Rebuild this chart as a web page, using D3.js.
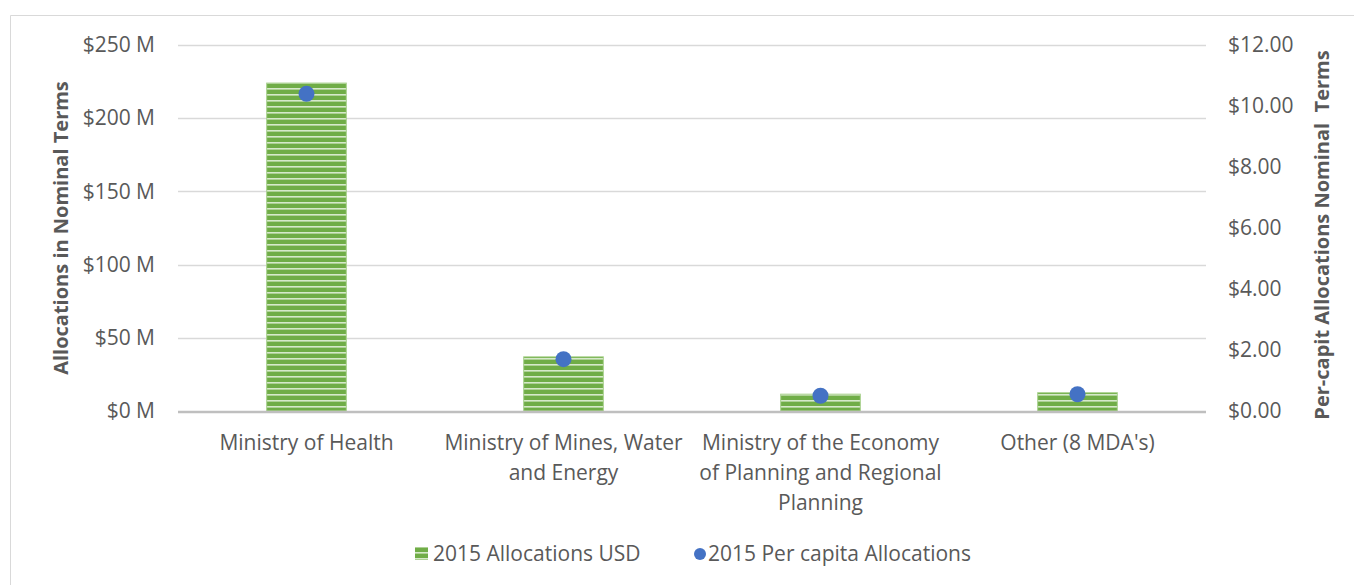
<!DOCTYPE html>
<html>
<head>
<meta charset="utf-8">
<script src="https://cdn.jsdelivr.net/npm/d3@7"></script>
<style>
  body { margin: 0; background: #fff; }
  svg text { font-family: "Open Sans", sans-serif; fill: #595959; }
</style>
</head>
<body>
<div id="chart"></div>
<script>
// chart data
var categoryLines = [
  ["Ministry of Health"],
  ["Ministry of Mines, Water", "and Energy"],
  ["Ministry of the Economy", "of Planning and Regional", "Planning"],
  ["Other (8 MDA's)"]
];
var categories = categoryLines.map(function(d) { return d.join(" "); });
var allocations = [224, 37, 11.5, 12.5];      // USD millions
var perCapita = [10.4, 1.7, 0.5, 0.55];       // USD
var leftTicks = [0, 50, 100, 150, 200, 250];
var rightTicks = [0, 2, 4, 6, 8, 10, 12];
var legendNames = ["2015 Allocations USD", "2015 Per capita Allocations"];

var W = 1354, H = 585, FS = "21px";
var svg = d3.select("#chart").append("svg")
    .attr("width", W).attr("height", H);

var defs = svg.append("defs");
var pat = defs.append("pattern")
    .attr("id", "stripes")
    .attr("patternUnits", "userSpaceOnUse")
    .attr("width", 8).attr("height", 6);
pat.append("rect").attr("width", 8).attr("height", 6).attr("fill", "#70AD47");
pat.append("rect").attr("y", 4).attr("width", 8).attr("height", 1.6)
    .attr("fill", "#e2f0d9").attr("opacity", 0.9);

// outer frame (top and left edges visible)
svg.append("line").attr("x1", 10.5).attr("x2", W).attr("y1", 15.5).attr("y2", 15.5)
    .attr("stroke", "#d9d9d9");
svg.append("line").attr("x1", 10.5).attr("x2", 10.5).attr("y1", 15.5).attr("y2", H)
    .attr("stroke", "#d9d9d9");

var x = d3.scaleBand().domain(categories).range([178, 1206])
    .paddingInner(0.69).paddingOuter(0.345);
var y = d3.scaleLinear().domain([0, 250]).range([411, 45]);
var y2 = d3.scaleLinear().domain([0, 12]).range([411, 45]);

// gridlines
svg.append("g").selectAll("line").data(leftTicks.slice(1)).enter().append("line")
    .attr("x1", 178).attr("x2", 1206)
    .attr("y1", function(d) { return Math.round(y(d)) + 0.5; })
    .attr("y2", function(d) { return Math.round(y(d)) + 0.5; })
    .attr("stroke", "#d9d9d9").attr("stroke-width", 1.3);

// left axis
var yAxis = svg.append("g").attr("transform", "translate(165,0)")
    .call(d3.axisLeft(y).tickValues(leftTicks).tickSize(0).tickPadding(10)
      .tickFormat(function(d) { return "$" + d + " M"; }));
yAxis.select(".domain").remove();
yAxis.selectAll("text").style("font-size", FS).style("fill", "#595959");

// right axis
var y2Axis = svg.append("g").attr("transform", "translate(1218,0)")
    .call(d3.axisRight(y2).tickValues(rightTicks).tickSize(0).tickPadding(10)
      .tickFormat(function(d) { return "$" + d3.format(".2f")(d); }));
y2Axis.select(".domain").remove();
y2Axis.selectAll("text").style("font-size", FS).style("fill", "#595959");

// bars
svg.append("g").selectAll("rect").data(allocations).enter().append("rect")
    .attr("x", function(d, i) { return x(categories[i]); })
    .attr("y", function(d) { return y(d); })
    .attr("width", x.bandwidth())
    .attr("height", function(d) { return y(0) - y(d); })
    .attr("fill", "url(#stripes)")
    .attr("stroke", "#a9d18e").attr("stroke-width", 1);

// baseline
svg.append("line").attr("x1", 178).attr("x2", 1206)
    .attr("y1", y(0) + 1).attr("y2", y(0) + 1)
    .attr("stroke", "#bfbfbf").attr("stroke-width", 2.5);

// per capita points
svg.append("g").selectAll("circle").data(perCapita).enter().append("circle")
    .attr("cx", function(d, i) { return x(categories[i]) + x.bandwidth() / 2; })
    .attr("cy", function(d) { return y2(d); })
    .attr("r", 8)
    .attr("fill", "#4472C4");

// category labels
var cat = svg.append("g").selectAll("text").data(categoryLines).enter().append("text")
    .attr("text-anchor", "middle")
    .attr("x", function(d, i) { return x(categories[i]) + x.bandwidth() / 2; })
    .attr("y", 450)
    .style("font-size", FS);
cat.selectAll("tspan").data(function(d) { return d; }).enter().append("tspan")
    .attr("x", function() { return d3.select(this.parentNode).attr("x"); })
    .attr("dy", function(d, i) { return i === 0 ? 0 : 30; })
    .text(function(d) { return d; });

// axis titles
svg.append("text")
    .attr("transform", "translate(68,228) rotate(-90)")
    .attr("text-anchor", "middle")
    .style("font-size", "20px").style("font-weight", "bold")
    .text("Allocations in Nominal Terms");
svg.append("text")
    .attr("transform", "translate(1329,235) rotate(-90)")
    .attr("text-anchor", "middle")
    .style("font-size", "20px").style("font-weight", "bold")
    .text("Per-capit Allocations Nominal\u00a0 Terms");

// legend
var legend = svg.append("g").selectAll("g").data(legendNames).enter().append("g")
    .attr("transform", function(d, i) { return "translate(" + (i === 0 ? 415 : 693) + ",554)"; });
legend.filter(function(d, i) { return i === 0; }).append("rect")
    .attr("x", 0).attr("y", -7).attr("width", 13).attr("height", 13)
    .attr("fill", "url(#stripes)");
legend.filter(function(d, i) { return i === 1; }).append("circle")
    .attr("cx", 7).attr("cy", 0).attr("r", 6)
    .attr("fill", "#4472C4");
legend.append("text")
    .attr("x", function(d, i) { return i === 0 ? 18 : 15; })
    .attr("dy", ".35em")
    .style("font-size", FS)
    .text(function(d) { return d; });
</script>
</body>
</html>
